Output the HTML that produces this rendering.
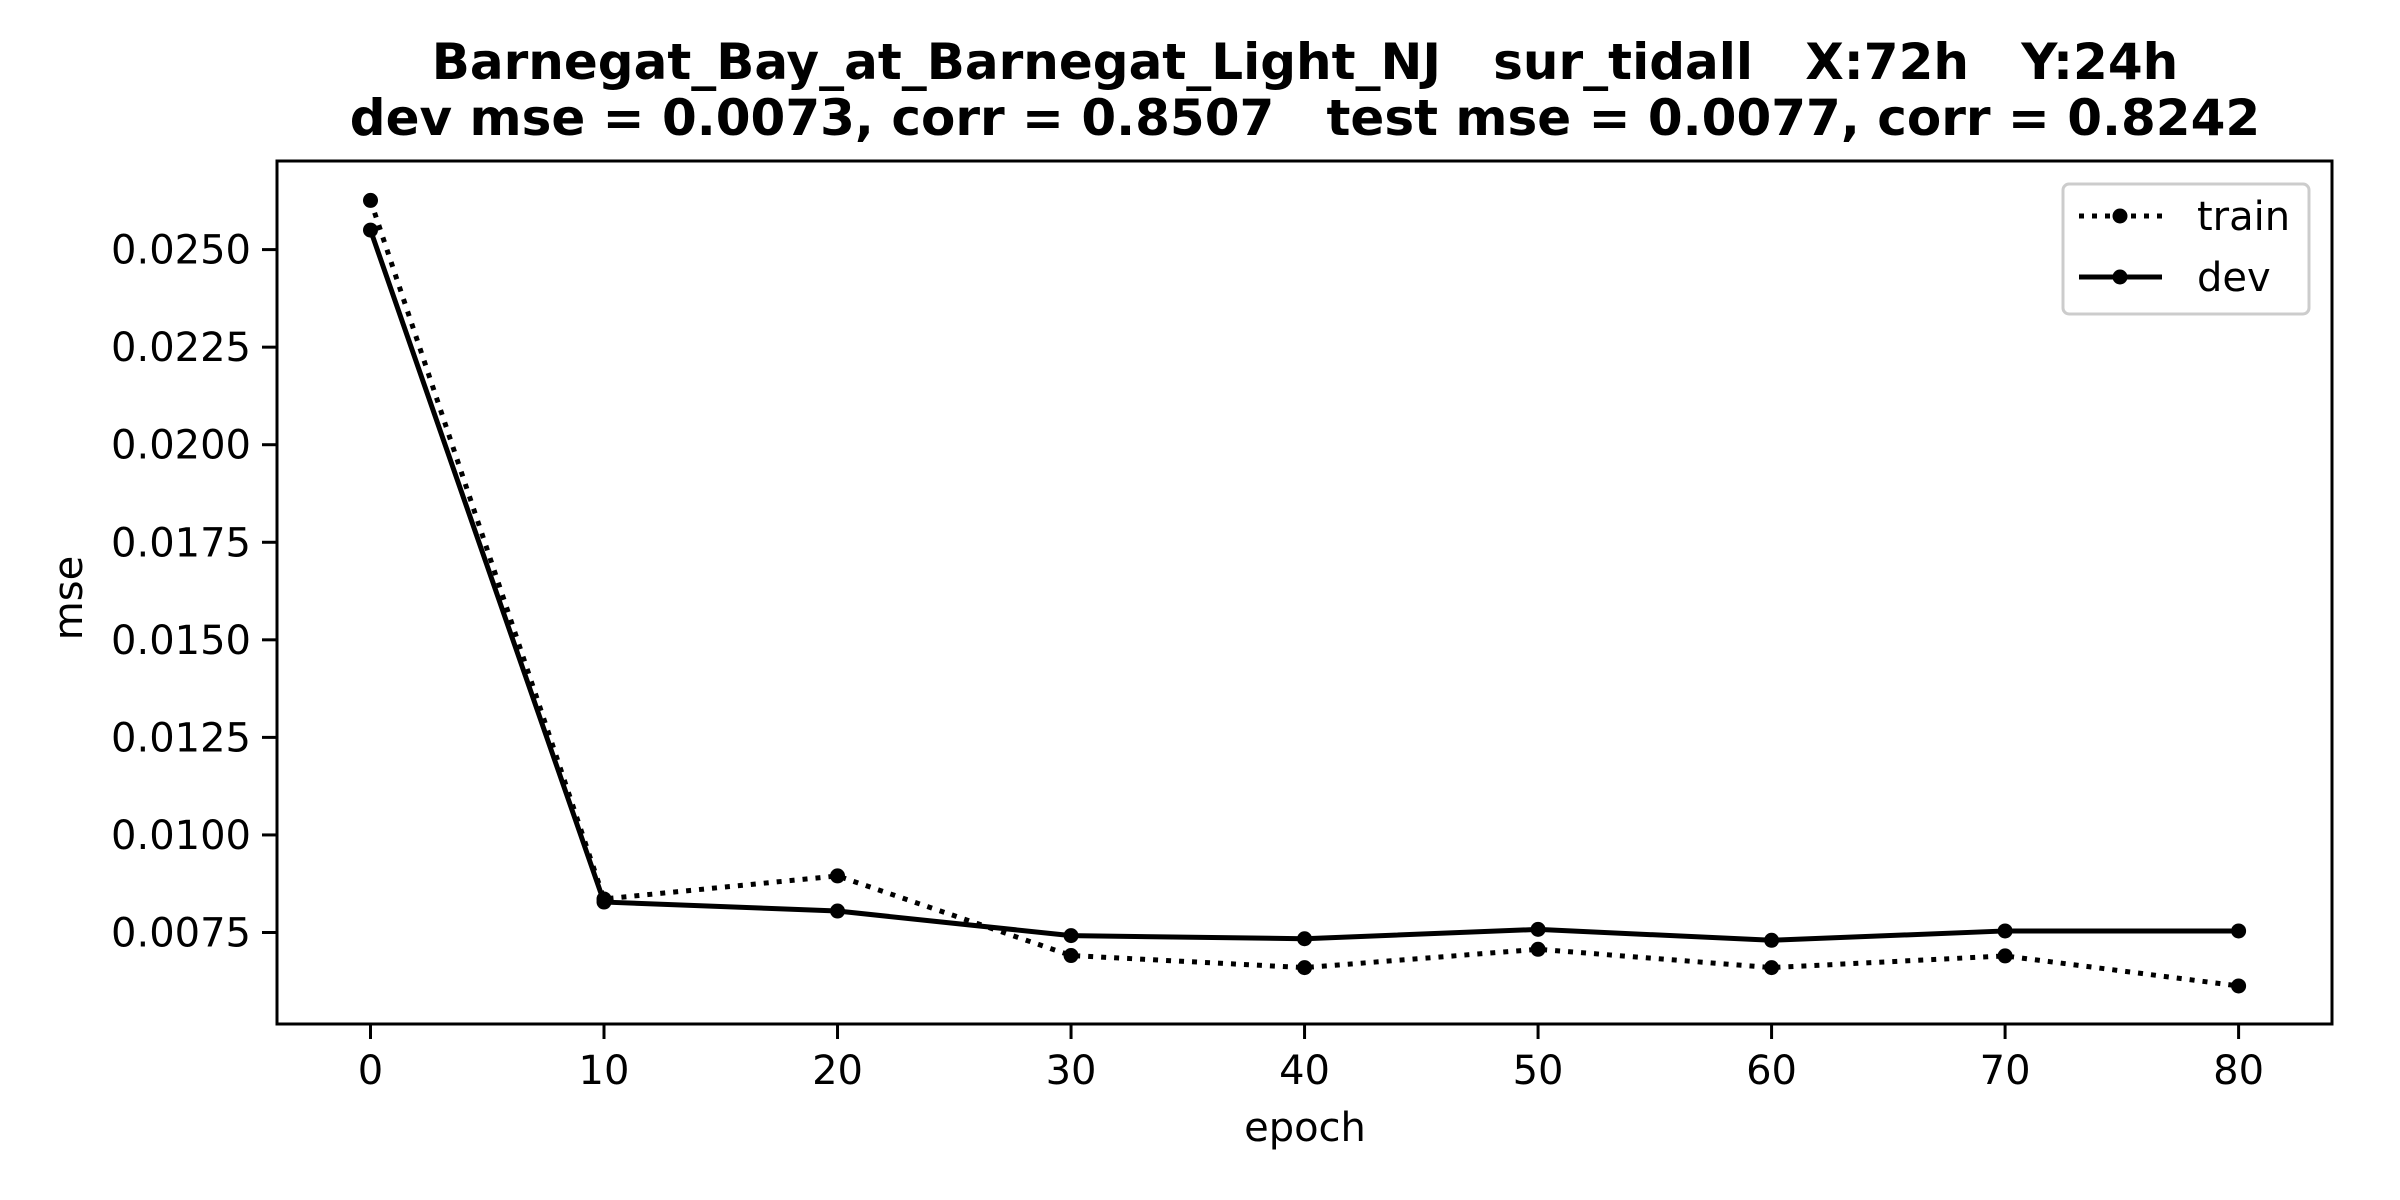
<!DOCTYPE html>
<html><head><meta charset="utf-8"><style>
html,body{margin:0;padding:0;background:#fff;}
svg{display:block;font-family:"DejaVu Sans","Liberation Sans",sans-serif;}
</style></head><body>
<svg id="chart" width="2400" height="1200" viewBox="0 0 2400 1200" xmlns="http://www.w3.org/2000/svg">
<rect width="2400" height="1200" fill="#fff"/>
<text x="1305" y="79" font-size="50" font-weight="bold" text-anchor="middle" xml:space="preserve">Barnegat_Bay_at_Barnegat_Light_NJ   sur_tidall   X:72h   Y:24h</text>
<text x="1305" y="135" font-size="50" font-weight="bold" text-anchor="middle" xml:space="preserve">dev mse = 0.0073, corr = 0.8507   test mse = 0.0077, corr = 0.8242</text>
<g id="plot"></g>
<text x="1305" y="1141" font-size="40" text-anchor="middle">epoch</text>
<text x="0" y="0" font-size="40" text-anchor="middle" transform="translate(82,598) rotate(-90)">mse</text>
<g>
<rect x="2063" y="184" width="246" height="130" rx="6" fill="#fff" stroke="#ccc" stroke-width="3"/>
<g>
<line x1="2079" y1="216" x2="2162" y2="216" stroke="#000" stroke-width="5" stroke-dasharray="5,8"/>
<circle cx="2120" cy="216" r="7.5" fill="#000"/>
<text x="2197" y="230" font-size="40">train</text></g>
<g>
<line x1="2079" y1="277" x2="2162" y2="277" stroke="#000" stroke-width="5"/>
<circle cx="2120" cy="277" r="7.5" fill="#000"/>
<text x="2197" y="291" font-size="40">dev</text></g>
</g>
</svg>
<script>
const epochs = [0,10,20,30,40,50,60,70,80];
const trainMse = [0.02626,0.00836,0.00895,0.00691,0.0066,0.00707,0.0066,0.0069,0.00613];
const devMse = [0.0255,0.00828,0.00805,0.00742,0.00734,0.00758,0.0073,0.00754,0.00754];
const xTicks = [0,10,20,30,40,50,60,70,80];
const yTicks = [0.0075,0.0100,0.0125,0.0150,0.0175,0.0200,0.0225,0.0250];

const L=277,R=2332,T=161,B=1024;
const NS='http://www.w3.org/2000/svg';
function xs(v){return 370.5+(v-0)*(2238.6-370.5)/80;}
function ys(v){return 932.5-(v-0.0075)*(932.5-249.6)/0.0175;}
const g=document.getElementById('plot');
function mk(tag,attrs,parent){const e=document.createElementNS(NS,tag);for(const k in attrs)e.setAttribute(k,attrs[k]);(parent||g).appendChild(e);return e;}

xTicks.forEach(t=>{
  const tk=mk('line',{x1:xs(t),x2:xs(t),y1:B,y2:B+15,stroke:'#000','stroke-width':3});
  
  
  const tx=mk('text',{x:xs(t),y:1084,'font-size':40,'text-anchor':'middle'});
  tx.textContent=t;
  
  
});
yTicks.forEach(t=>{
  const tk=mk('line',{x1:L-15,x2:L,y1:ys(t),y2:ys(t),stroke:'#000','stroke-width':3});
  
  
  const tx=mk('text',{x:L-26,y:ys(t)+14,'font-size':40,'text-anchor':'end'});
  tx.textContent=t.toFixed(4);
  
  
});

function series(vals,name,dash){
  const pts=epochs.map((e,i)=>xs(e)+','+ys(vals[i])).join(' ');
  const pl=mk('polyline',{points:pts,fill:'none',stroke:'#000','stroke-width':5,'stroke-linejoin':'round'});
  if(dash)pl.setAttribute('stroke-dasharray',dash);
  
  
  epochs.forEach((e,i)=>{
    const c=mk('circle',{cx:xs(e),cy:ys(vals[i]),r:7.5,fill:'#000'});
    
    
  });
}
series(trainMse,'train','5,8');
series(devMse,'dev',null);

const frame=mk('rect',{x:L,y:T,width:R-L,height:B-T,fill:'none',stroke:'#000','stroke-width':3});


</script>
</body></html>
